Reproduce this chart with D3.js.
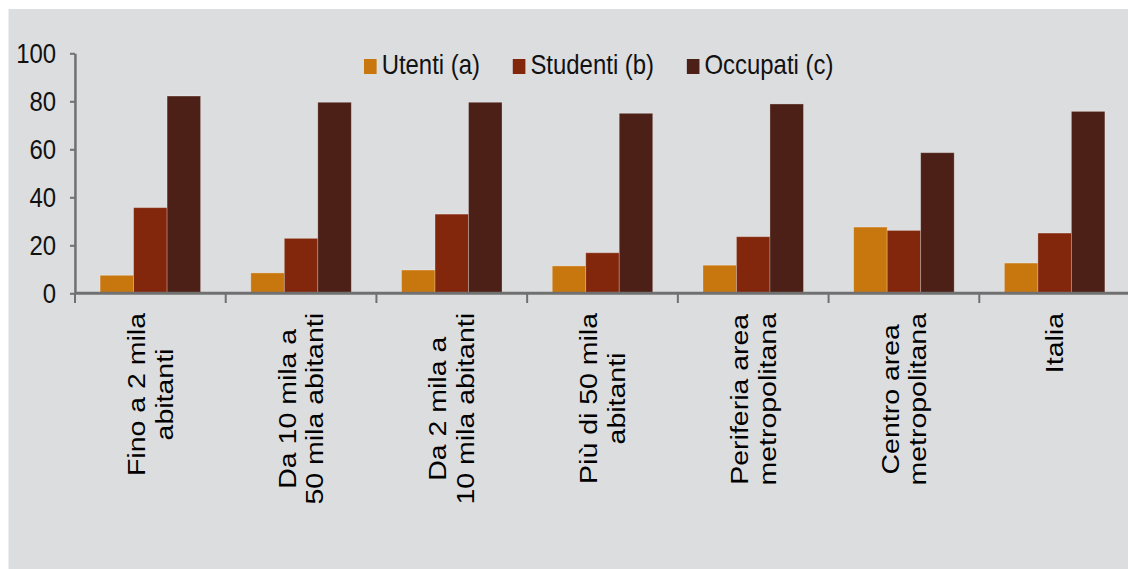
<!DOCTYPE html>
<html>
<head>
<meta charset="utf-8">
<script src="https://cdn.jsdelivr.net/npm/d3@7"></script>
<style>
  body { margin: 0; background: #ffffff; }
  text { font-family: "Liberation Sans", Arial, sans-serif; }
</style>
</head>
<body>
<svg id="chart" width="1128" height="569"></svg>
<script>
// categories (each label split in its lines) and the three series
const categories = ["Fino a 2 mila abitanti", "Da 10 mila a 50 mila abitanti", "Da 2 mila a 10 mila abitanti",
  "Più di 50 mila abitanti", "Periferia area metropolitana", "Centro area metropolitana", "Italia"];
const labelLines = [["Fino a 2 mila", "abitanti"], ["Da 10 mila a", "50 mila abitanti"], ["Da 2 mila a", "10 mila abitanti"],
  ["Più di 50 mila", "abitanti"], ["Periferia area", "metropolitana"], ["Centro area", "metropolitana"], ["Italia"]];
const seriesNames = ["Utenti (a)", "Studenti (b)", "Occupati (c)"];
const utenti = [7.5, 8.5, 9.7, 11.4, 11.7, 27.6, 12.6];
const studenti = [35.7, 22.9, 33.0, 16.9, 23.6, 26.2, 25.1];
const occupati = [82.2, 79.6, 79.6, 75.0, 78.9, 58.6, 75.8];
const yTicks = [0, 20, 40, 60, 80, 100];
const colors = ["#c8760e", "#82270c", "#4c2016"];

const W = 1128, H = 569;
// the original picture is squeezed horizontally, so draw in a wider frame
const SX = 0.84;
const IW = W / SX;
const FS = "28.5px";

const svg = d3.select("#chart");
const g = svg.append("g").attr("transform", `scale(${SX},1)`);

// gray panel
g.append("rect")
  .attr("x", 8.5 / SX).attr("y", 9)
  .attr("width", IW - 8.5 / SX).attr("height", H - 9)
  .attr("fill", "#dcdddf");

const table = categories.map((c, i) => ({ cat: c, values: [utenti[i], studenti[i], occupati[i]] }));

const x0 = d3.scaleBand().domain(categories).range([75 / SX, 1130 / SX]);
const bw = x0.bandwidth();
const x1 = d3.scaleBand().domain(seriesNames).range([bw / 6, bw * 5 / 6]);
const y = d3.scaleLinear().domain([0, 100]).range([293.3, 53.3]);

// bars
const groups = g.selectAll(".grp").data(table).enter().append("g")
  .attr("class", "grp")
  .attr("transform", d => `translate(${x0(d.cat)},0)`);
groups.selectAll("rect").data(d => d.values.map((v, k) => ({ s: seriesNames[k], v: v, k: k })))
  .enter().append("rect")
  .attr("x", d => x1(d.s))
  .attr("width", x1.bandwidth())
  .attr("y", d => y(d.v))
  .attr("height", d => y(0) - y(d.v))
  .attr("fill", d => colors[d.k])
  .attr("stroke", "rgba(255,255,255,0.3)")
  .attr("stroke-width", 1);

// y axis
const yAxis = g.append("g")
  .attr("transform", `translate(${x0.range()[0]},0)`)
  .call(d3.axisLeft(y).tickValues(yTicks).tickSize(6).tickPadding(16.5).tickSizeOuter(0));
yAxis.select(".domain").attr("stroke", "#707070").attr("stroke-width", 3);
yAxis.selectAll(".tick line").attr("stroke", "#707070").attr("stroke-width", 2);
yAxis.selectAll(".tick text").attr("font-size", FS).attr("fill", "#111").attr("font-family", "Liberation Sans, Arial, sans-serif");

// x axis line and ticks at category borders
const borders = categories.map(c => x0(c)).concat([x0.range()[1]]);
g.selectAll(".xtick").data(borders).enter().append("line")
  .attr("x1", d => d).attr("x2", d => d)
  .attr("y1", y(0)).attr("y2", 303)
  .attr("stroke", "#707070").attr("stroke-width", 2.4);
g.append("line")
  .attr("x1", x0.range()[0]).attr("x2", IW)
  .attr("y1", y(0)).attr("y2", y(0))
  .attr("stroke", "#707070").attr("stroke-width", 3);

// rotated category labels
const lh = 33;
const capH = 20.4;
categories.forEach((c, i) => {
  const lines = labelLines[i];
  const cx = x0(c) + bw / 2;
  const lab = g.append("g").attr("transform", `translate(${cx},313) rotate(-90)`);
  const texts = lines.map(t => lab.append("text").text(t)
    .attr("font-size", FS).attr("fill", "#000").attr("text-anchor", "middle"));
  const maxLen = d3.max(texts, t => t.node().getComputedTextLength());
  const b1 = (capH - (lines.length - 1) * lh) / 2;
  texts.forEach((t, j) => t.attr("x", -maxLen / 2).attr("y", b1 + j * lh));
});

// legend
let lx = 364 / SX;
seriesNames.forEach((s, k) => {
  g.append("rect").attr("x", lx).attr("y", 59).attr("width", 15).attr("height", 15).attr("fill", colors[k]);
  const t = g.append("text").attr("x", lx + 21).attr("y", 74)
    .attr("font-size", FS).attr("fill", "#111").text(s);
  lx += 21 + t.node().getComputedTextLength() + 39;
});
</script>
</body>
</html>
